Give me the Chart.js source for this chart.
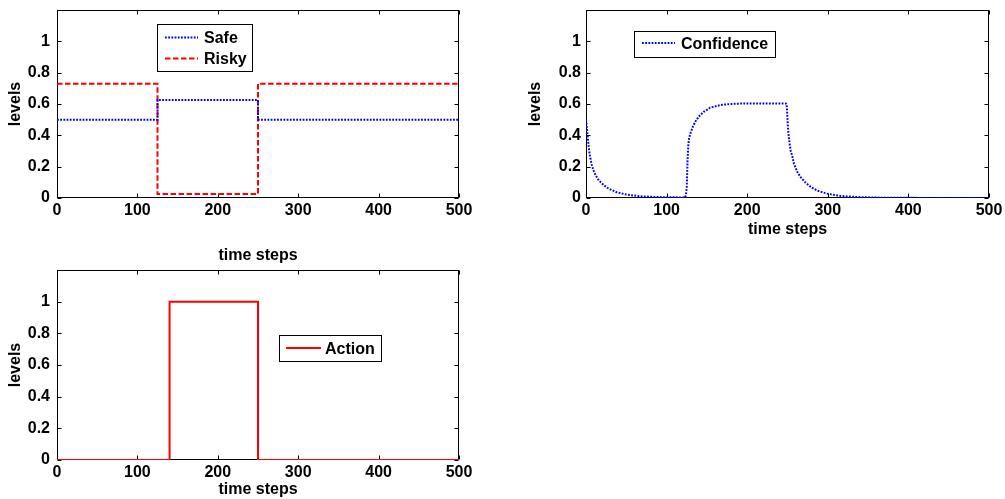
<!DOCTYPE html>
<html><head><meta charset="utf-8">
<script src="https://cdn.jsdelivr.net/npm/chart.js@4/dist/chart.umd.min.js"></script>
<style>
html,body{margin:0;padding:0;background:#fff;width:1005px;height:499px;overflow:hidden;}
.box{position:absolute;}
canvas{display:block;}
</style></head><body>
<div class="box" style="left:0;top:0;width:480px;height:270px"><canvas id="c1" width="480" height="270"></canvas></div>
<div class="box" style="left:520px;top:0;width:485px;height:250px"><canvas id="c2" width="485" height="250"></canvas></div>
<div class="box" style="left:0;top:260px;width:480px;height:239px"><canvas id="c3" width="480" height="239"></canvas></div>
<script>
// ---- data ----
const xTicks = [0, 100, 200, 300, 400, 500];
const yTicks = [0, 0.2, 0.4, 0.6, 0.8, 1];
const xTitle = 'time steps';
const yTitle = 'levels';

const safeT  = [0, 125, 125, 250, 250, 500];
const safeV  = [0.5, 0.5, 0.625, 0.625, 0.5, 0.5];
const riskyT = [0, 125, 125, 250, 250, 500];
const riskyV = [0.73, 0.73, 0.025, 0.025, 0.73, 0.73];

const confT = [0,1,2,3,4,5,7,9,12,16,22,28,38,50,67,88,113,122,123,124,125,126,127,128,130,133,136,140,146,154,167,180,192,220,248,249,250,251,252,254,256,258,262,266,272,279,287,299,316,337,366,400,450,500];
const confV = [0.5,0.45,0.40,0.345,0.30,0.265,0.215,0.18,0.145,0.112,0.082,0.06,0.037,0.022,0.011,0.006,0.004,0.003,0.003,0.02,0.07,0.24,0.34,0.385,0.42,0.46,0.49,0.52,0.55,0.576,0.594,0.6,0.603,0.603,0.603,0.6,0.5,0.42,0.37,0.30,0.265,0.22,0.168,0.135,0.10,0.07,0.047,0.028,0.013,0.006,0.002,0.001,0,0];

const actionT = [0, 140, 140, 250, 250, 500];
const actionV = [0, 0, 1, 1, 0, 0];

// ---- helpers ----
const FONT = {family: "Arial, 'Liberation Sans', sans-serif", size: 16, weight: 'bold', lineHeight: 1.2};
const pts = (T, V) => T.map((t, i) => ({x: t, y: V[i]}));

const framePlugin = {
  id: 'frame',
  beforeDatasetsDraw(chart) {
    const {ctx, chartArea: a, scales: {x, y}} = chart;
    ctx.save();
    ctx.strokeStyle = '#000';
    ctx.lineWidth = 1;
    const l = Math.round(a.left) + 0.5, r = Math.round(a.right) - 0.5;
    const t = Math.round(a.top) + 0.5, b = Math.round(a.bottom) - 0.5;
    ctx.strokeRect(l, t, r - l, b - t);
    const L = 4;
    ctx.beginPath();
    x.ticks.forEach(tk => {
      const px = Math.round(x.getPixelForValue(tk.value)) + 0.5;
      ctx.moveTo(px, b); ctx.lineTo(px, b - L);
      ctx.moveTo(px, t); ctx.lineTo(px, t + L);
    });
    y.ticks.forEach(tk => {
      const py = Math.round(y.getPixelForValue(tk.value)) + 0.5;
      ctx.moveTo(l, py); ctx.lineTo(l + L, py);
      ctx.moveTo(r, py); ctx.lineTo(r - L, py);
    });
    ctx.stroke();
    ctx.restore();
  },
  afterDraw(chart, args, opts) {
    const lg = opts.legend;
    if (!lg) return;
    const {ctx} = chart;
    ctx.save();
    ctx.fillStyle = '#fff';
    ctx.fillRect(lg.x, lg.y, lg.w, lg.h);
    ctx.strokeStyle = '#000';
    ctx.lineWidth = 1;
    ctx.strokeRect(lg.x + 0.5, lg.y + 0.5, lg.w, lg.h);
    chart.data.datasets.forEach((ds, i) => {
      const ry = lg.rows[i];
      ctx.save();
      ctx.strokeStyle = ds.borderColor;
      ctx.lineWidth = ds.borderWidth;
      ctx.setLineDash(ds.borderDash || []);
      ctx.beginPath();
      ctx.moveTo(lg.lx1, ry - 1.5);
      ctx.lineTo(lg.lx2, ry - 1.5);
      ctx.stroke();
      ctx.restore();
      ctx.fillStyle = '#000';
      ctx.font = "bold 16px Arial, 'Liberation Sans', sans-serif";
      ctx.textBaseline = 'middle';
      ctx.textAlign = 'left';
      ctx.fillText(ds.label, lg.tx, ry);
    });
    ctx.restore();
  }
};

function makeChart(id, datasets, cfg) {
  return new Chart(document.getElementById(id), {
    type: 'line',
    data: {datasets},
    plugins: [framePlugin],
    options: {
      responsive: false,
      animation: false,
      devicePixelRatio: 1,
      layout: {padding: {top: 10, right: cfg.right, left: 0, bottom: 0}},
      elements: {point: {radius: 0}, line: {tension: 0, fill: false, borderCapStyle: 'butt'}},
      plugins: {legend: {display: false}, tooltip: {enabled: false}, frame: {legend: cfg.legend}},
      scales: {
        x: {
          type: 'linear', min: 0, max: 500,
          afterBuildTicks: s => { s.ticks = xTicks.map(v => ({value: v})); },
          ticks: {font: FONT, color: '#000', padding: 3, maxRotation: 0, autoSkip: false},
          grid: {display: false, drawTicks: false, tickLength: 0},
          border: {display: false},
          title: {display: true, text: xTitle, font: FONT, color: '#000', padding: {top: 0, bottom: cfg.xtpad}},
          afterFit: s => { s.height = cfg.xh; s.paddingLeft = 0; s.paddingRight = 0; }
        },
        y: {
          type: 'linear', min: 0, max: 1.2,
          afterBuildTicks: s => { s.ticks = yTicks.map(v => ({value: v})); },
          ticks: {font: FONT, color: '#000', padding: cfg.ypad, callback: v => String(Math.round(v * 10) / 10)},
          grid: {display: false, drawTicks: false, tickLength: 0},
          border: {display: false},
          title: {display: true, text: yTitle, font: FONT, color: '#000', padding: {top: 6.4, bottom: 0}},
          afterFit: s => { s.width = cfg.yw; s.paddingTop = 0; s.paddingBottom = 0; }
        }
      }
    }
  });
}

makeChart('c1', [
  {label: 'Safe', data: pts(safeT, safeV), borderColor: '#0000ff', borderWidth: 2, borderDash: [1.8, 1.4]},
  {label: 'Risky', data: pts(riskyT, riskyV), borderColor: '#ff0000', borderWidth: 2, borderDash: [5.5, 2.5]}
], {right: 21, xh: 72, xtpad: 4.4, yw: 57, ypad: 7,
    legend: {x: 157, y: 24, w: 95, h: 47, rows: [39, 60], lx1: 165, lx2: 198, tx: 204}});

makeChart('c2', [
  {label: 'Confidence', data: pts(confT, confV), borderColor: '#0000ff', borderWidth: 2, borderDash: [1.8, 1.4]}
], {right: 16, xh: 52, xtpad: 10.4, yw: 66, ypad: 5,
    legend: {x: 114, y: 31, w: 141, h: 26, rows: [44.5], lx1: 122, lx2: 155, tx: 161}});

makeChart('c3', [
  {label: 'Action', data: pts(actionT, actionV), borderColor: '#ff0000', borderWidth: 2}
], {right: 21, xh: 39, xtpad: 0, yw: 57, ypad: 7,
    legend: {x: 279, y: 75, w: 102, h: 26, rows: [89.5], lx1: 286, lx2: 321, tx: 325}});
</script>
</body></html>
